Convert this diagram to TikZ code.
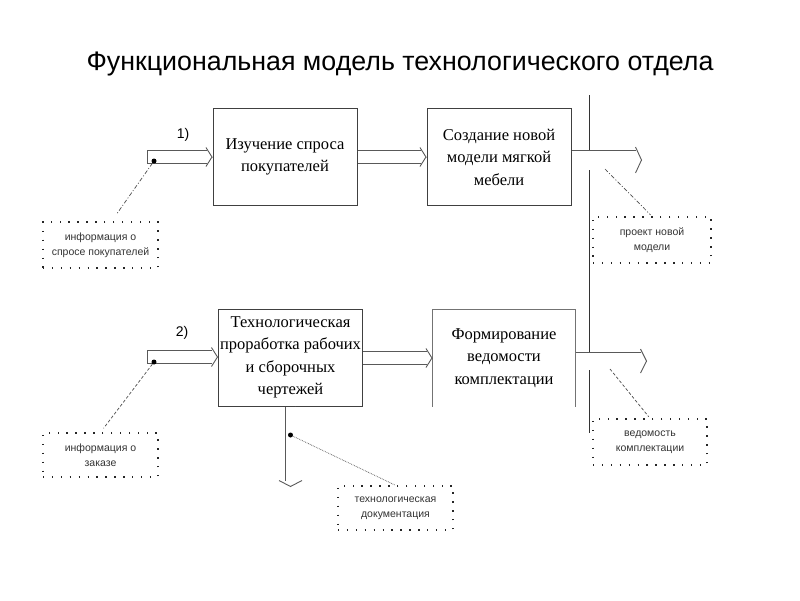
\documentclass[tikz,border=0pt]{standalone}
\usepackage{fontspec}
\setmainfont{Liberation Serif}
\setsansfont{Liberation Sans}
\usetikzlibrary{arrows.meta,positioning}

\tikzset{
	blk/.style={draw=black!75, line width=1pt, minimum width=144pt, minimum height=97pt, align=center, inner sep=1pt, font=\fontsize{16.5}{22.5}\selectfont},
	note/.style={draw=black!85, line width=1.4pt, dash pattern=on 1.4pt off 7.5pt, minimum width=115pt, minimum height=46pt, align=center, font=\sffamily\fontsize{10.5}{15}\selectfont, text=black!80},
	pipe/.style={draw=black!65, line width=0.9pt, double=white, shorten >=6pt},
	head/.style={draw=black!65, line width=0.9pt, {Straight Barb[length=6pt, width=#1]}-},
	lead/.style={black!70, line width=0.7pt},
	knot/.style={circle, fill=black, inner sep=0pt, minimum size=5pt},
}

\begin{document}
\begin{tikzpicture}[x=1pt, y=-1pt]
	\useasboundingbox (0,0) rectangle (800,600);

	\coordinate (in1) at (147,157); % input 1
	\coordinate (in2) at (147,357); % input 2
	\coordinate (out1) at (642,160); % output 1
	\coordinate (out2) at (647,361); % output 2
	\coordinate (down) at (290.5,487); % output down
	\coordinate (bartop) at (589,95); % bar top
	\coordinate (barbot) at (589,433); % bar bottom

	\node[anchor=base, font=\sffamily\fontsize{26.8}{32}\selectfont] (title) at (400,70) {Функциональная модель технологического отдела};

	% blocks
	\node[blk] (izuch) at (285,157) {Изучение спроса\\покупателей};
	\node[blk] (sozd) at (499,157) {Создание новой\\модели мягкой\\мебели};
	\node[blk] (tech) at (290.5,357.5) {Технологическая\\проработка рабочих\\и сборочных\\чертежей};
	\node[blk, draw=none, minimum width=142pt, minimum height=96pt] (form) at (504,358) {Формирование\\ведомости\\комплектации};
	\draw[black!55, line width=1pt] (form.south west) -- (form.north west) -- (form.north east) -- (form.south east);

	\draw[black!80, line width=1pt] (bartop) -- (barbot);

	% arrows
	\draw[pipe, double distance=12pt] (in1) -- (izuch.west);
	\draw[head=19pt] (izuch.west) -- ++(-1,0);
	\draw[black!65, line width=0.9pt] (in1) ++(0,-6.9) -- ++(0,13.8);
	\draw[pipe, double distance=12pt] (izuch.east) -- (sozd.west);
	\draw[head=19pt] (sozd.west) -- ++(-1,0);
	\draw[pipe, double distance=19pt] (sozd.east |- out1) -- (out1);
	\draw[head=26pt] (out1) -- ++(-1,0);

	\draw[pipe, double distance=12pt] (in2) -- (tech.west |- in2);
	\draw[head=19pt] (tech.west |- in2) -- ++(-1,0);
	\draw[black!65, line width=0.9pt] (in2) ++(0,-6.9) -- ++(0,13.8);
	\draw[pipe, double distance=12pt] (tech.east |- form) -- (form.west);
	\draw[head=19pt] (form.west) -- ++(-1,0);
	\draw[pipe, double distance=17pt] (form.east |- out2) -- (out2);
	\draw[head=24pt] (out2) -- ++(-1,0);
	\draw[pipe, double distance=10pt] (tech.south) -- (down);
	\draw[head=23pt] (down) -- ++(0,-1);

	\node[font=\sffamily\fontsize{14}{16}\selectfont] (n1) at (183,135) {1)};
	\node[font=\sffamily\fontsize{14}{16}\selectfont] (n2) at (182,333) {2)};

	% notes
	\node[note] (info1) at (100.5,245) {информация о\\спросе покупателей};
	\node[note, minimum height=44pt] (info2) at (100.5,455) {информация о\\заказе};
	\node[note, minimum width=118pt] (proekt) at (652,240) {проект новой\\модели};
	\node[note, minimum width=114pt] (vedom) at (650,442) {ведомость\\комплектации};
	\node[note, minimum height=44pt] (techdoc) at (395.5,508) {технологическая\\документация};

	\node[knot] (d1) at (154,161) {};
	\node[knot] (d2) at (154,362) {};
	\node[knot] (d3) at (290.5,435) {};
	\coordinate (p1) at (605,169);
	\coordinate (p2) at (610,369);

	\draw[lead, dash pattern=on 4pt off 2pt on 1pt off 2pt, shorten >=9pt] (d1) -- (info1.65);
	\draw[lead, densely dashed, shorten >=5pt] (d2) -- (info2.north);
	\draw[lead, dash pattern=on 4pt off 2pt on 1pt off 2pt, shorten >=2pt] (p1) -- (proekt.north);
	\draw[lead, densely dashed, shorten >=2pt] (p2) -- (vedom.north);
	\draw[lead, densely dotted, shorten >=1pt] (d3) -- (techdoc.north);
\end{tikzpicture}
\end{document}
